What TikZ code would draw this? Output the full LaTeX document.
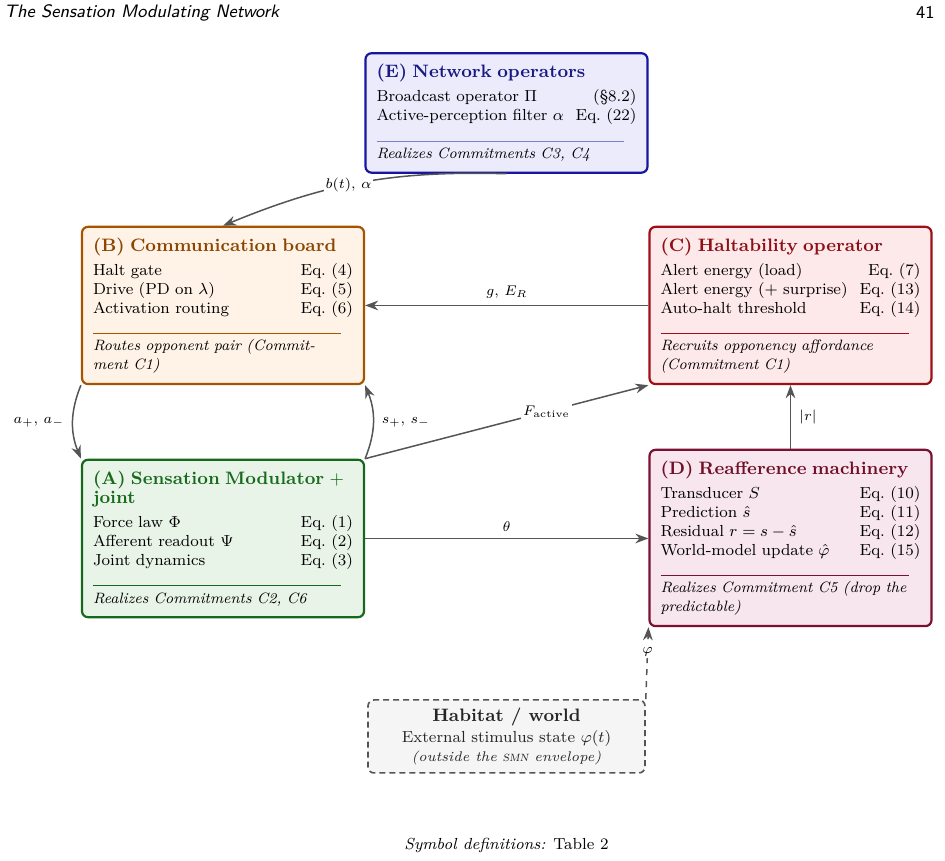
\documentclass[tikz,border=0pt]{standalone}
\usepackage{amsmath,amssymb}
\usepackage{tikz}
\usetikzlibrary{positioning,arrows.meta,calc}
\usepackage{xcolor}

\definecolor{cE}{RGB}{22,22,160}
\definecolor{cEt}{RGB}{26,26,130}
\definecolor{fE}{RGB}{235,235,252}
\definecolor{cB}{RGB}{166,84,0}
\definecolor{cBt}{RGB}{140,70,0}
\definecolor{fB}{RGB}{255,243,231}
\definecolor{cC}{RGB}{160,14,24}
\definecolor{cCt}{RGB}{140,16,22}
\definecolor{fC}{RGB}{253,232,234}
\definecolor{cA}{RGB}{22,104,28}
\definecolor{cAt}{RGB}{24,106,28}
\definecolor{fA}{RGB}{233,244,233}
\definecolor{cD}{RGB}{122,16,50}
\definecolor{cDt}{RGB}{110,16,42}
\definecolor{fD}{RGB}{248,230,238}
\definecolor{arrgray}{RGB}{85,85,85}

\begin{document}
\begin{tikzpicture}[
  panel/.style={draw, rectangle, rounded corners=3pt, line width=1.1pt, text width=130pt, inner sep=5.5pt, align=left, font=\footnotesize},
  world/.style={draw=arrgray, dashed, dash pattern=on 3pt off 2pt, rectangle, rounded corners=3pt, line width=0.8pt, fill=gray!8, text=black!85, minimum width=138.5pt, minimum height=36.5pt, align=center, font=\footnotesize, inner sep=3pt},
  arr/.style={-{Stealth[length=2.3mm,width=1.7mm]}, line width=0.75pt, draw=arrgray},
  lbl/.style={font=\scriptsize, fill=white, inner sep=1pt},
  side/.style={font=\scriptsize, inner sep=2pt},
]
  \useasboundingbox (-8.901,-7.574) rectangle (7.706,7.556);

  % running head
  \node[anchor=west, inner sep=0pt, font=\fontsize{9}{11}\sffamily\slshape] (head) at (-8.83,7.33) {The Sensation Modulating Network};
  \node[anchor=east, inner sep=0pt, font=\fontsize{9}{11}\sffamily] (page) at (7.53,7.33) {41};

  \node[panel, draw=cE, fill=fE] (E) at (0,5.571) {%
    {\small\bfseries\color{cEt}(E) Network operators}\\[2.5pt]
    Broadcast operator $\Pi$\hfill(\S8.2)\\
    Active-perception filter $\alpha$\hfill Eq.~(22)\\[1pt]
    {\color{cE!55}\rule{124pt}{0.5pt}}\\[-1pt]
    {\fontsize{7.5}{9}\selectfont\itshape Realizes Commitments C3, C4}};

  \node[panel, draw=cB, fill=fB] (B) at (-4.982,2.188) {%
    {\small\bfseries\color{cBt}(B) Communication board}\\[2.5pt]
    Halt gate\hfill Eq.~(4)\\
    Drive (PD on $\lambda$)\hfill Eq.~(5)\\
    Activation routing\hfill Eq.~(6)\\[1pt]
    {\color{cB}\rule{124pt}{0.5pt}}\\[-1pt]
    {\fontsize{7.5}{9}\selectfont\itshape Routes opponent pair (Commit-\\ment C1)}};

  \node[panel, draw=cC, fill=fC] (C) at (4.991,2.188) {%
    {\small\bfseries\color{cCt}(C) Haltability operator}\\[2.5pt]
    Alert energy (load)\hfill Eq.~(7)\\
    Alert energy ($+$ surprise)\hfill Eq.~(13)\\
    Auto-halt threshold\hfill Eq.~(14)\\[1pt]
    {\color{cC}\rule{124pt}{0.5pt}}\\[-1pt]
    {\fontsize{7.5}{9}\selectfont\itshape Recruits opponency affordance\\(Commitment C1)}};

  \node[panel, draw=cA, fill=fA] (A) at (-4.982,-1.907) {%
    {\small\bfseries\color{cAt}(A) Sensation Modulator $+$ joint}\\[2.5pt]
    Force law $\Phi$\hfill Eq.~(1)\\
    Afferent readout $\Psi$\hfill Eq.~(2)\\
    Joint dynamics\hfill Eq.~(3)\\[1pt]
    {\color{cA}\rule{124pt}{0.5pt}}\\[-1pt]
    {\fontsize{7.5}{9}\selectfont\itshape Realizes Commitments C2, C6}};

  \node[panel, draw=cD, fill=fD] (D) at (4.991,-1.898) {%
    {\small\bfseries\color{cDt}(D) Reafference machinery}\\[2.5pt]
    Transducer $S$\hfill Eq.~(10)\\
    Prediction $\hat{s}$\hfill Eq.~(11)\\
    Residual $r = s - \hat{s}$\hfill Eq.~(12)\\
    World-model update $\hat{\varphi}$\hfill Eq.~(15)\\[1pt]
    {\color{cD}\rule{124pt}{0.5pt}}\\[-1pt]
    {\fontsize{7.5}{9}\selectfont\itshape Realizes Commitment C5 (drop the\\predictable)}};

  \node[world] (hab) at (0,-5.386) {%
    {\small\bfseries Habitat / world}\\[1pt]
    External stimulus state $\varphi(t)$\\
    {\scriptsize\itshape (outside the \textsc{smn} envelope)}};

  \node[font=\footnotesize] (caption) at (0,-7.31) {\textit{Symbol definitions:} Table~2};

  \draw[arr] (E.south) to[bend right=12] node[lbl, pos=0.55] {$b(t)$, $\alpha$} (B.north);
  \draw[arr] (C.west) -- node[lbl, above=2pt] {$g$, $E_R$} (B.east);
  \draw[arr] (B.south west) to[bend right=22] node[side, left=2pt] {$a_+$, $a_-$} (A.north west);
  \draw[arr] (A.north east) to[bend right=22] node[side, right=2pt] {$s_+$, $s_-$} (B.south east);
  \draw[arr] (A.north east) -- node[lbl, pos=0.64] {$F_{\text{active}}$} (C.south west);
  \draw[arr] (A.east) -- node[lbl, above=2pt] {$\theta$} (A.east -| D.west);
  \draw[arr] (D.north) -- node[side, right=2pt] {$|r|$} (C.south);
  \draw[arr, dashed] (hab.north east) -- node[lbl, pos=0.66] {$\varphi$} (D.south west);
\end{tikzpicture}
\end{document}
